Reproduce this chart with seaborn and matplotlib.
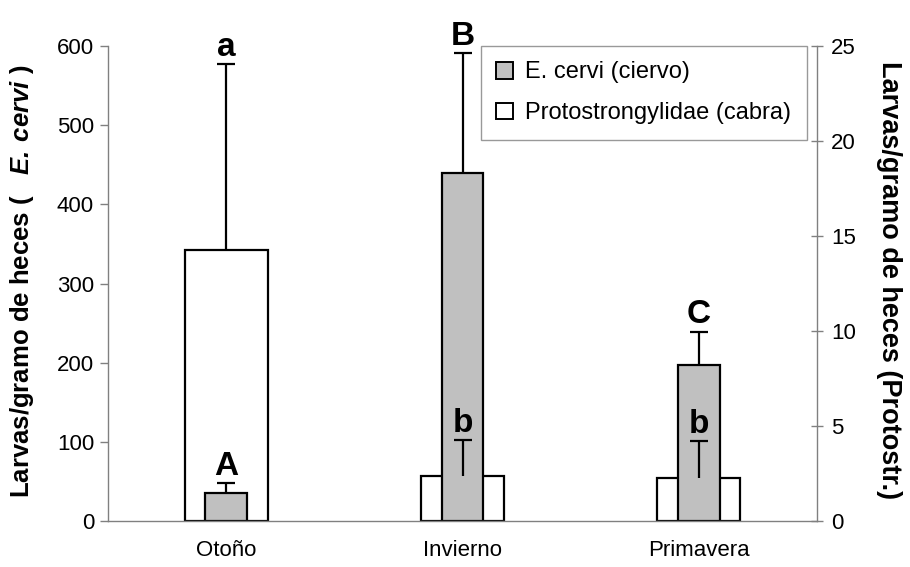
import matplotlib
matplotlib.use("Agg")
import matplotlib.pyplot as plt
import seaborn as sns
import numpy as np
from matplotlib.patches import Patch

# ---- data ----
seasons = ["Otoño", "Invierno", "Primavera"]
cervi_mean = [35, 440, 197]          # left axis (E. cervi)
cervi_err = [13, 151, 42]
proto_mean = [14.25, 2.35, 2.25]     # right axis (Protostrongylidae)
proto_err = [9.8, 1.9, 1.95]
cervi_letters = ["A", "B", "C"]
proto_letters = ["a", "b", "b"]
left_ticks = [0, 100, 200, 300, 400, 500, 600]
right_ticks = [0, 5, 10, 15, 20, 25]

sns.set_theme(style="white")
plt.rcParams["font.family"] = ["Liberation Sans", "DejaVu Sans"]
plt.rcParams["mathtext.fontset"] = "custom"
plt.rcParams["mathtext.bfit"] = "Liberation Sans:italic:bold"
plt.rcParams["mathtext.rm"] = "Liberation Sans"
plt.rcParams["text.color"] = "black"
plt.rcParams["axes.labelcolor"] = "black"
plt.rcParams["xtick.color"] = "black"
plt.rcParams["ytick.color"] = "black"

GREY = "#C0C0C0"
SPINE = "#808080"

fig = plt.figure(figsize=(9.10, 5.67), dpi=100)
ax = fig.add_axes([108/910, 1-521/567, (817-108)/910, (521-46)/567])
ax2 = ax.twinx()
ax3 = ax.twinx()

x = np.arange(len(seasons))

# white bars (right axis), behind
sns.barplot(x=seasons, y=proto_mean, ax=ax2, width=0.35, color="white",
            edgecolor="black", linewidth=1.6, saturation=1, errorbar=None)
# grey bars (left axis), in front
sns.barplot(x=seasons, y=cervi_mean, ax=ax, width=0.175, color=GREY,
            edgecolor="black", linewidth=1.6, saturation=1, errorbar=None)

eb1 = ax.errorbar(x, cervi_mean, yerr=[np.zeros(3), cervi_err], fmt="none",
                  ecolor="black", elinewidth=1.6, capsize=6.5, capthick=1.6)
eb2 = ax3.errorbar(x, proto_mean, yerr=[np.zeros(3), proto_err], fmt="none",
                   ecolor="black", elinewidth=1.6, capsize=6.5, capthick=1.6)
for eb in (eb1, eb2):
    eb[1][0].set_visible(False)   # hide lower caps

ax.set_zorder(2)
ax.patch.set_visible(False)
ax2.set_zorder(1)
ax3.set_zorder(3)

for a in (ax, ax2, ax3):
    a.set_xlim(-0.5, 2.5)
ax.set_ylim(0, 600)
ax2.set_ylim(0, 25)
ax3.set_ylim(0, 25)
ax3.axis("off")

# letters
for i in range(3):
    ax.annotate(cervi_letters[i], (x[i], cervi_mean[i] + cervi_err[i]),
                xytext=(0, 6), textcoords="offset points", ha="center",
                va="baseline", fontsize=24, fontweight="bold", color="black")
    ax3.annotate(proto_letters[i], (x[i], proto_mean[i] + proto_err[i]),
                 xytext=(0, 6), textcoords="offset points", ha="center",
                 va="baseline", fontsize=24, fontweight="bold", color="black",
                 zorder=5)

# axes styling
ax.set_yticks(left_ticks)
ax2.set_yticks(right_ticks)
ax.set_xticks(x)
ax.set_xticklabels(seasons, fontsize=16)
ax.set_xticks([-0.5, 0.5, 1.5, 2.5], minor=True)
ax.tick_params(axis="x", which="major", length=0, pad=14)
ax.tick_params(axis="x", which="minor", length=6, direction="out", color=SPINE, width=1)
ax.tick_params(axis="y", length=6, direction="out", color=SPINE, width=1,
               labelsize=16, pad=4, labelcolor="black")
ax2.tick_params(axis="y", length=8, direction="inout", color=SPINE, width=1,
                labelsize=16, pad=6, labelcolor="black")
ax2.tick_params(axis="x", length=0, labelbottom=False)

for s in ("top", "right"):
    ax.spines[s].set_visible(False)
for s in ("top", "left", "bottom"):
    ax2.spines[s].set_visible(False)
ax2.spines["right"].set_color(SPINE)
ax.spines["left"].set_color(SPINE)
ax.spines["bottom"].set_color(SPINE)
for s in ("left", "bottom"):
    ax.spines[s].set_linewidth(1)
ax2.spines["right"].set_linewidth(1)
ax.grid(False)
ax2.grid(False)
ax.set_xlabel("")

ax.set_ylabel(r"Larvas/gramo de heces (   $\mathbfit{E.\,cervi}$ )",
              fontsize=18.5, fontweight="bold", color="black", va="center")
ax.yaxis.set_label_coords(-0.121, 0.504)
ax2.set_ylabel("Larvas/gramo de heces (Protostr.)", fontsize=19.5,
               fontweight="bold", rotation=270, va="center", color="black")
ax2.yaxis.set_label_coords(1.102, 0.507)

handles = [Patch(facecolor=GREY, edgecolor="black", linewidth=1.4),
           Patch(facecolor="white", edgecolor="black", linewidth=1.4)]
leg = fig.legend(handles, ["E. cervi (ciervo)", "Protostrongylidae (cabra)"],
                 loc="upper left", bbox_to_anchor=(481/910, 1-46/567),
                 fontsize=17, frameon=True, fancybox=False, handlelength=0.72,
                 handleheight=0.72, handletextpad=0.5, borderpad=0.65,
                 labelspacing=0.8, borderaxespad=0)
leg.get_frame().set_edgecolor(SPINE)
leg.get_frame().set_linewidth(1)
leg.set_zorder(10)
for t in leg.get_texts():
    t.set_color("black")

fig.savefig("out.png", dpi=100)
